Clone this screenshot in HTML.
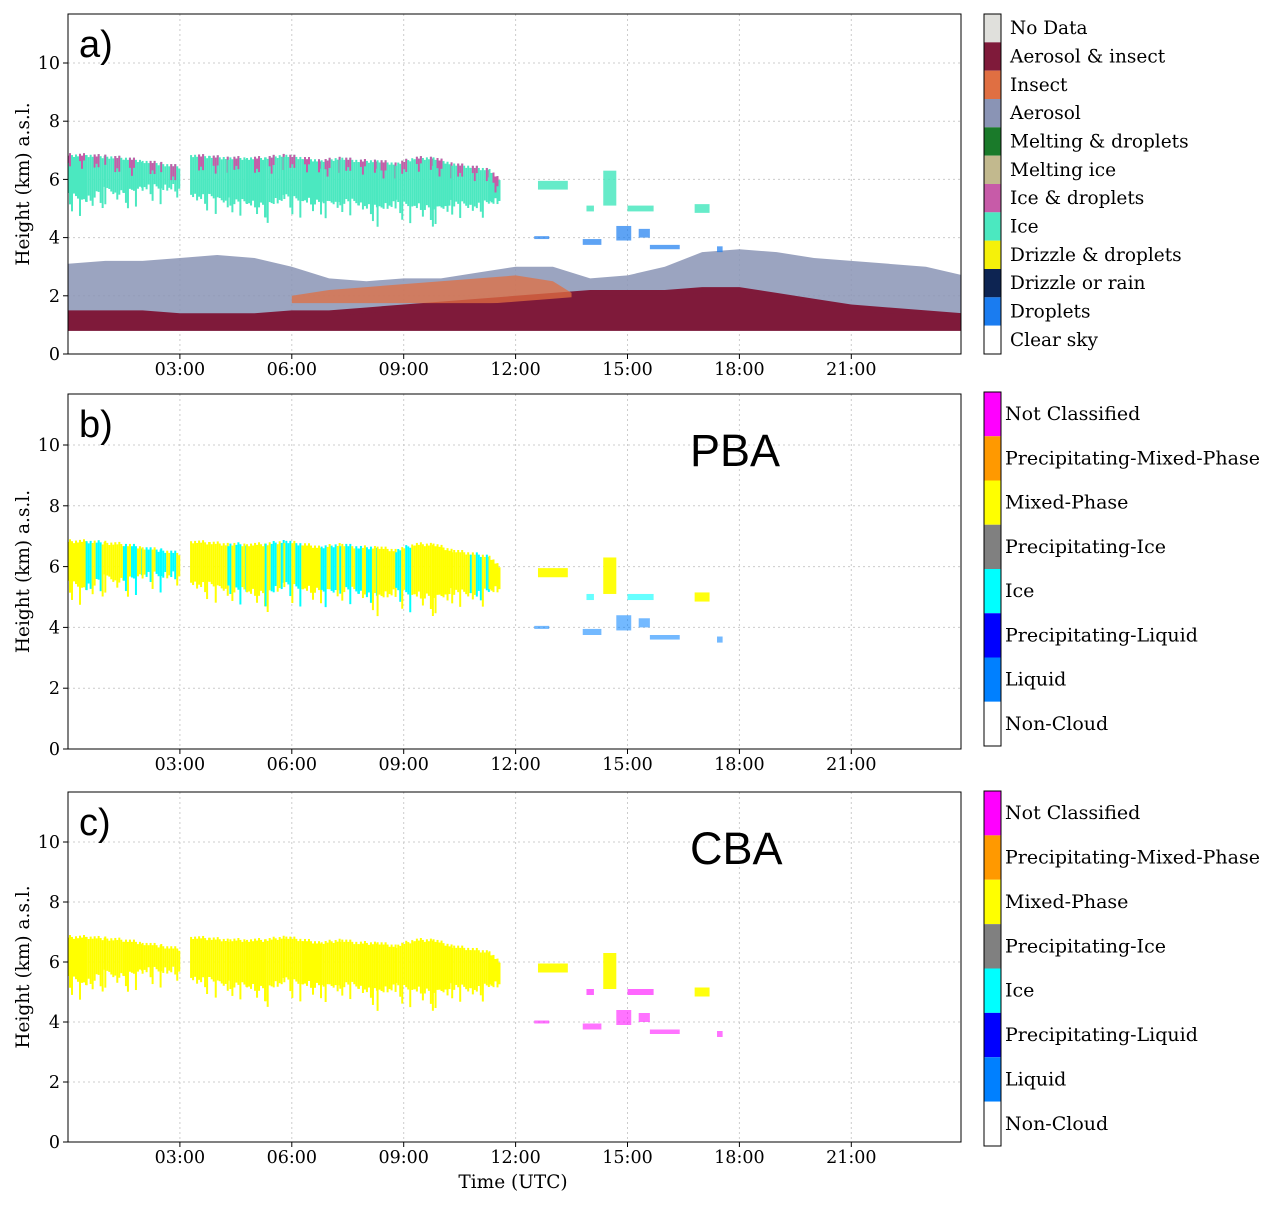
<!DOCTYPE html>
<html><head><meta charset="utf-8"><style>
body{margin:0;background:#fff;}
svg text{font-family:"DejaVu Serif","Liberation Serif",serif;}
</style></head><body>
<svg id="c" width="1280" height="1205" xmlns="http://www.w3.org/2000/svg"></svg>
<script>
// ---- data ----
const hourTicks=[3,6,9,12,15,18,21];
const hourLabels=["03:00","06:00","09:00","12:00","15:00","18:00","21:00"];
const kmTicks=[0,2,4,6,8,10];
const profHours=[0,1,2,3,4,5,6,7,8,9,10,11,12,13,14,15,16,17,18,19,20,21,22,23,24];
const aerosolTop=[3.1,3.2,3.2,3.3,3.4,3.3,3.0,2.6,2.5,2.6,2.6,2.8,3.0,3.0,2.6,2.7,3.0,3.5,3.6,3.5,3.3,3.2,3.1,3.0,2.7];
const maroonTop=[1.5,1.5,1.5,1.4,1.4,1.4,1.5,1.5,1.6,1.7,1.8,1.9,2.0,2.1,2.2,2.2,2.2,2.3,2.3,2.1,1.9,1.7,1.6,1.5,1.4];
const insectHours=[6,7,8,9,10,11,12,13,13.5];
const insectTop=[2.0,2.2,2.3,2.4,2.5,2.6,2.7,2.5,2.1];
const layerBase=0.8;
const segAt=[0,0.5,1,1.5,2,2.5,3.0];
const segAtop=[6.9,6.9,6.85,6.8,6.7,6.6,6.5];
const segAbase=[5.6,5.4,5.8,5.6,5.9,5.8,5.9];
const segBt=[3.3,3.8,4.3,4.8,5.3,5.8,6.3,6.8,7.3,7.8,8.3,8.8,9.3,9.8,10.3,10.8,11.3,11.6];
const segBtop=[6.9,6.85,6.8,6.8,6.8,6.9,6.8,6.7,6.8,6.7,6.7,6.6,6.8,6.8,6.6,6.5,6.4,6.0];
const segBbase=[5.6,5.5,5.4,5.3,5.2,5.5,5.4,5.3,5.4,5.3,5.1,5.3,5.2,5.1,5.3,5.2,5.3,5.4];
const segAclassB=[0,1,0,1,1,1,0];
const segBclassB=[0,0,1,0,1,1,0,1,1,1,0,1,0,0,0,1,0,0];
// small blobs: [t0,t1,base,top]
const iceBlobs=[[12.6,13.4,5.65,5.95],[14.35,14.7,5.1,6.3],[16.8,17.2,4.85,5.15],[13.9,14.1,4.9,5.1],[15.0,15.7,4.9,5.1]];
const liquidBlobs=[[12.5,12.9,3.95,4.05],[13.8,14.3,3.75,3.95],[14.7,15.1,3.9,4.4],[15.3,15.6,4.0,4.3],[15.6,16.4,3.6,3.75],[17.4,17.55,3.5,3.7]];
const legendA=["No Data","Aerosol & insect","Insect","Aerosol","Melting & droplets","Melting ice","Ice & droplets","Ice","Drizzle & droplets","Drizzle or rain","Droplets","Clear  sky"];
const colorsA=["#e0e0dc","#7f1a3a","#e06f42","#8a94b5","#1a7a2a","#c2b98e","#c75ba8","#4be8c0","#f5f10a","#0d2452","#1a7cf0","#ffffff"];
const legendB=["Not Classified","Precipitating-Mixed-Phase","Mixed-Phase","Precipitating-Ice","Ice","Precipitating-Liquid","Liquid","Non-Cloud"];
const colorsB=["#ff00ff","#ff9900","#ffff00","#808080","#00ffff","#0000ff","#0080ff","#ffffff"];

const svg=document.getElementById('c');const NS="http://www.w3.org/2000/svg";
function mk(tag,at,parent){const e=document.createElementNS(NS,tag);for(const k in at)e.setAttribute(k,at[k]);(parent||svg).appendChild(e);return e;}
const X=t=>68+t*37.3;
const panels=[
 {name:"a",top:14,bottom:354,y0:354,k:29.1,lab:"a)"},
 {name:"b",top:394,bottom:749,y0:749,k:30.4,lab:"b)",title:"PBA",cb:[392,746]},
 {name:"c",top:792,bottom:1142,y0:1142,k:30.0,lab:"c)",title:"CBA",cb:[791,1146]}];
function area(g,ts,tops,bases,fill,Y,name,op){
 let d="";ts.forEach((t,i)=>{d+=(i?"L":"M")+X(t)+","+Y(tops[i]);});
 for(let i=ts.length-1;i>=0;i--)d+="L"+X(ts[i])+","+Y(typeof bases==="number"?bases:bases[i]);
 const p=mk("path",{d:d+"Z",fill:fill,opacity:op||1},g);
 
 
}
function streaks(g,ts,tops,bases,colorFn,Y,name,topBand){
 for(let i=0;i<ts.length-1;i++){
  const x0=X(ts[i]),x1=X(ts[i+1]);
  for(let x=x0;x<x1;x+=2){
   const f=(x-x0)/(x1-x0);
   const b=bases[i]+(bases[i+1]-bases[i])*f;
   const tp=tops[i]+(tops[i+1]-tops[i])*f;
   const col=Math.floor(x);
   const c=colorFn(i,col);
   const dip=((col*7)%11)/11*0.8*(((col*13)%5)<2?1:0.3);
   const tj=((col*5)%7)/7*0.15;
   const l=mk("line",{x1:x,x2:x,y1:Y(tp-tj),y2:Y(b-dip),stroke:c,"stroke-width":2},g);
   
   
   if(topBand&&((col*3)%7)<3){
    const m=mk("line",{x1:x,x2:x,y1:Y(tp-tj),y2:Y(tp-tj-0.25-((col%4)*0.1)),stroke:topBand,"stroke-width":2},g);
    
    
   }
  }
 }
}
function blob(g,b,fill,op,name,Y){
 const r=mk("rect",{x:X(b[0]),y:Y(b[3]),width:X(b[1])-X(b[0]),height:Y(b[2])-Y(b[3]),fill:fill,opacity:op},g);
 
 
}
panels.forEach(P=>{
 const Y=v=>P.y0-v*P.k;
 const g=mk("g",{});
 const cp=mk("clipPath",{id:"cl"+P.name},g);mk("rect",{x:68,y:P.top,width:893,height:P.bottom-P.top},cp);
 const pg=mk("g",{"clip-path":"url(#cl"+P.name+")"},g);
 hourTicks.forEach(h=>{const l=mk("line",{x1:X(h),x2:X(h),y1:P.top,y2:P.bottom,stroke:"#ccc","stroke-dasharray":"2,3"},pg);});
 kmTicks.forEach(v=>{const l=mk("line",{x1:68,x2:961,y1:Y(v),y2:Y(v),stroke:"#ccc","stroke-dasharray":"2,3"},pg);});
 if(P.name==="a"){
  area(pg,profHours,aerosolTop,layerBase,colorsA[3],Y,'aerosol-layer',0.85);
  area(pg,profHours,maroonTop,layerBase,colorsA[1],Y,'aerosol-insect-layer');
  area(pg,insectHours,insectTop,1.75,colorsA[2],Y,'insect-layer',0.75);
  area(pg,profHours,maroonTop.map(v=>v-0.2),layerBase,colorsA[1],Y,'aerosol-insect-core');
  streaks(pg,segAt,segAtop,segAbase,()=>colorsA[7],Y,'ice-cloud',colorsA[6]);
  streaks(pg,segBt,segBtop,segBbase,()=>colorsA[7],Y,'ice-cloud',colorsA[6]);
  iceBlobs.forEach(b=>blob(pg,b,colorsA[7],0.85,'ice-blob',Y));
  liquidBlobs.forEach(b=>blob(pg,b,colorsA[10],0.7,'droplet-blob',Y));
 }else{
  const isB=P.name==="b";
  streaks(pg,segAt,segAtop,segAbase,(i,c)=>isB&&segAclassB[i]&&((c*7)%5)<3?colorsB[4]:colorsB[2],Y,'cloud');
  streaks(pg,segBt,segBtop,segBbase,(i,c)=>isB&&segBclassB[i]&&((c*7)%5)<3?colorsB[4]:colorsB[2],Y,'cloud');
  iceBlobs.forEach((b,i)=>blob(pg,b,i>=3?(isB?colorsB[4]:colorsB[0]):colorsB[2],i>=3?0.6:0.95,'cloud-blob',Y));
  liquidBlobs.forEach(b=>blob(pg,b,isB?colorsB[6]:colorsB[0],0.55,'liquid-blob',Y));
 }
 const fr=mk("rect",{x:68,y:P.top,width:893,height:P.bottom-P.top,fill:"none",stroke:"#000","stroke-width":1},g);
 hourTicks.forEach((h,i)=>{mk("line",{x1:X(h),x2:X(h),y1:P.bottom,y2:P.bottom+5,stroke:"#000"},g);const t=mk("text",{x:X(h),y:P.bottom+21,"text-anchor":"middle","font-size":17.5},g);t.textContent=hourLabels[i];});
 kmTicks.forEach(v=>{mk("line",{x1:63,x2:68,y1:Y(v),y2:Y(v),stroke:"#000"},g);const t=mk("text",{x:60,y:Y(v)+6,"text-anchor":"end","font-size":17.5},g);t.textContent=v;});
 const yt=mk("text",{transform:`translate(29,${(P.top+P.bottom)/2}) rotate(-90)`,"text-anchor":"middle","font-size":18.5},g);yt.textContent="Height (km) a.s.l.";
 const pl=mk("text",{x:79,y:P.top+43,"font-size":38,style:"font-family:'Liberation Sans',sans-serif"},g);pl.textContent=P.lab;
 if(P.title){const tt=mk("text",{x:690,y:P.top+72,"font-size":45,style:"font-family:'Liberation Sans',sans-serif"},g);tt.textContent=P.title;}
 const labels=P.name==="a"?legendA:legendB,cols=P.name==="a"?colorsA:colorsB;
 const c0=P.cb?P.cb[0]:14,c1=P.cb?P.cb[1]:354,h=(c1-c0)/labels.length;
 labels.forEach((l,i)=>{
  const r=mk("rect",{x:984,y:c0+i*h,width:17,height:h,fill:cols[i]},g);
  const t=mk("text",{x:P.name==="a"?1010:1005,y:c0+i*h+h/2+6,"font-size":P.name==="a"?18.5:19},g);t.textContent=l;
 });
 mk("rect",{x:984,y:c0,width:17,height:c1-c0,fill:"none",stroke:"#000"},g);
});
const xt=mk("text",{x:513,y:1188,"text-anchor":"middle","font-size":18.5});xt.textContent="Time (UTC)";


</script>
</body></html>
